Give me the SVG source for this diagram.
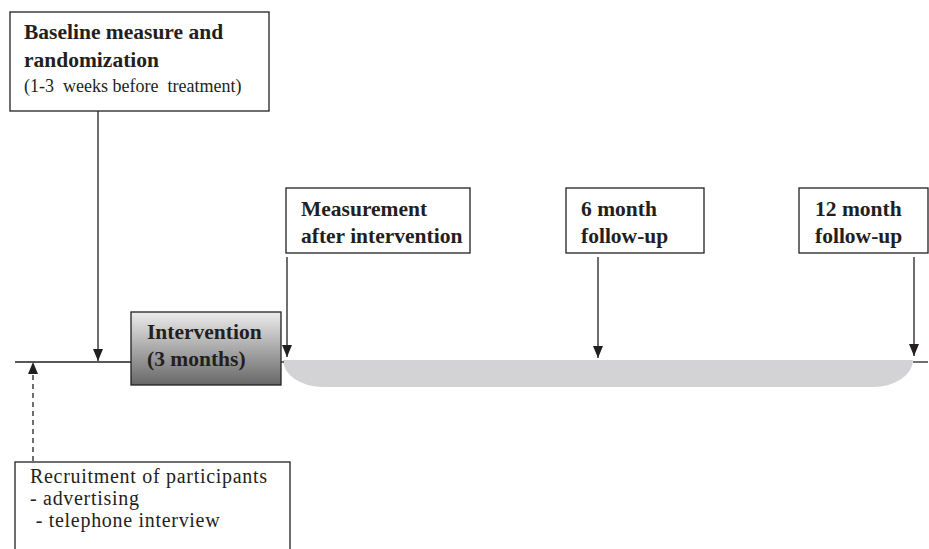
<svg xmlns="http://www.w3.org/2000/svg" width="929" height="549" viewBox="0 0 929 549">
<style>
.box{fill:#fff;stroke:#231f20;stroke-width:1.3}
.b{font-family:"Liberation Serif","Times New Roman",serif;font-weight:bold;font-size:21.5px;fill:#231f20}
.r{font-family:"Liberation Serif","Times New Roman",serif;font-size:20px;letter-spacing:0.7px;fill:#231f20;white-space:pre}
.s{font-family:"Liberation Serif","Times New Roman",serif;font-size:18px;fill:#231f20;white-space:pre}
.ln{stroke:#231f20;stroke-width:1.3;fill:none}
</style>
<defs>
<linearGradient id="g" x1="0" y1="0" x2="0" y2="1">
<stop offset="0" stop-color="#ececec"/>
<stop offset="1" stop-color="#676767"/>
</linearGradient>
<marker id="ah" markerUnits="userSpaceOnUse" markerWidth="12" markerHeight="10" viewBox="0 0 12 10" refX="12" refY="5" orient="auto">
<path d="M0,0 L12,5 L0,10 Z" fill="#231f20"/>
</marker>
</defs>
<g id="timeline-band">
<path d="M283,360 L913,360 A40,27 0 0 1 873,387 L323,387 A40,27 0 0 1 283,360 Z" fill="#d3d3d5"/>
</g>
<g id="connectors">
<line class="ln" x1="15" y1="362" x2="131" y2="362"/>
<line class="ln" x1="281" y1="362" x2="284" y2="362"/>
<line class="ln" x1="913" y1="362" x2="928" y2="362"/>
<line class="ln" x1="98" y1="111" x2="98" y2="361" marker-end="url(#ah)"/>
<line class="ln" x1="33" y1="461" x2="33" y2="362" stroke-dasharray="5,4" marker-end="url(#ah)"/>
<line class="ln" x1="287" y1="257" x2="287" y2="357" marker-end="url(#ah)"/>
<line class="ln" x1="598" y1="257" x2="598" y2="358" marker-end="url(#ah)"/>
<line class="ln" x1="914" y1="257" x2="914" y2="356" marker-end="url(#ah)"/>
</g>
<g id="baseline">
<rect class="box" x="10" y="12" width="259" height="99"/>
<text class="b" x="24" y="39">Baseline measure and</text>
<text class="b" x="24" y="67">randomization</text>
<text class="s" x="24" y="92">(1-3  weeks before  treatment)</text>
</g>
<g id="intervention">
<rect x="131" y="312" width="150" height="73" fill="url(#g)" stroke="#231f20" stroke-width="1.3"/>
<text class="b" x="147" y="339">Intervention</text>
<text class="b" x="147" y="366">(3 months)</text>
</g>
<g id="measurement">
<rect class="box" x="286" y="188" width="184" height="65"/>
<text class="b" x="301" y="216">Measurement</text>
<text class="b" x="301" y="243">after intervention</text>
</g>
<g id="six-month">
<rect class="box" x="566" y="188" width="138" height="65"/>
<text class="b" x="581" y="216">6 month</text>
<text class="b" x="581" y="243">follow-up</text>
</g>
<g id="twelve-month">
<rect class="box" x="799" y="188" width="129" height="65"/>
<text class="b" x="815" y="216">12 month</text>
<text class="b" x="815" y="243">follow-up</text>
</g>
<g id="recruitment">
<rect class="box" x="15" y="462" width="275" height="100"/>
<text class="r" x="30" y="483">Recruitment of participants</text>
<text class="r" x="30" y="505">- advertising</text>
<text class="r" x="30" y="527"> - telephone interview</text>
</g>
</svg>
